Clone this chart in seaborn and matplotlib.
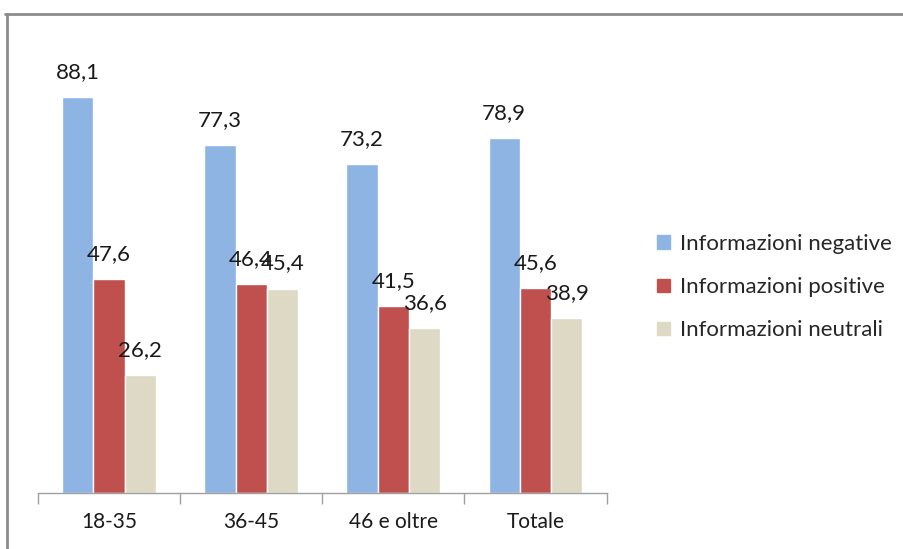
import pandas as pd
import matplotlib.pyplot as plt
import seaborn as sns
from matplotlib.lines import Line2D

# data
age_groups = ['18-35', '36-45', '46 e oltre', 'Totale']
series_names = ['Informazioni negative', 'Informazioni positive', 'Informazioni neutrali']
negative = [88.1, 77.3, 73.2, 78.9]
positive = [47.6, 46.4, 41.5, 45.6]
neutral = [26.2, 45.4, 36.6, 38.9]
palette = ['#8DB4E2', '#C0504D', '#DDD9C4']

rows = []
for name, values in zip(series_names, [negative, positive, neutral]):
    for group, value in zip(age_groups, values):
        rows.append({'Gruppo': group, 'Serie': name, 'Valore': value})
df = pd.DataFrame(rows)

sns.set_style('white')
plt.rcParams['font.family'] = ['Lato', 'DejaVu Sans']

fig = plt.figure(figsize=(9.04, 5.49), dpi=100)
ax = fig.add_axes([0.042, 0.102, 0.629, 0.819])

sns.barplot(data=df, x='Gruppo', y='Valore', hue='Serie', order=age_groups,
            hue_order=series_names, palette=palette, width=0.66,
            edgecolor='white', linewidth=1, saturation=1, ax=ax, legend=False)

# value labels with comma as decimal separator
for container in ax.containers:
    labels = [f'{v:.1f}'.replace('.', ',') for v in container.datavalues]
    ax.bar_label(container, labels=labels, padding=11, fontsize=16, color='#1a1a1a')

ax.set_ylim(0, 100)
ax.set_xlim(-0.5, len(age_groups) - 0.5)
ax.set_xlabel('')
ax.set_ylabel('')
ax.set_yticks([])
ax.set_xticks(range(len(age_groups)))
ax.set_xticklabels(age_groups, fontsize=15, color='#1a1a1a')
ax.set_xticks([i - 0.5 for i in range(len(age_groups) + 1)], minor=True)
ax.tick_params(axis='x', which='major', length=0, pad=14)
ax.tick_params(axis='x', which='minor', length=8, width=1, color='#A0A0A0', bottom=True)
for side in ['left', 'top', 'right']:
    ax.spines[side].set_visible(False)
ax.spines['bottom'].set_color('#A0A0A0')
ax.spines['bottom'].set_linewidth(1)

# legend on the right
handles = [plt.Rectangle((0, 0), 1, 1, color=c) for c in palette]
fig.legend(handles, series_names, loc='center left', bbox_to_anchor=(0.705, 0.477),
           frameon=False, fontsize=16, handlelength=0.55, handleheight=0.55,
           handletextpad=0.45, labelspacing=1.05)

# outer frame of the original chart
fig.add_artist(Line2D([0.006, 1.0], [0.974, 0.974], color='#8C8C8C', lw=2))
fig.add_artist(Line2D([0.008, 0.008], [0.0, 0.974], color='#8C8C8C', lw=2))

plt.savefig('out.png', dpi=100)
